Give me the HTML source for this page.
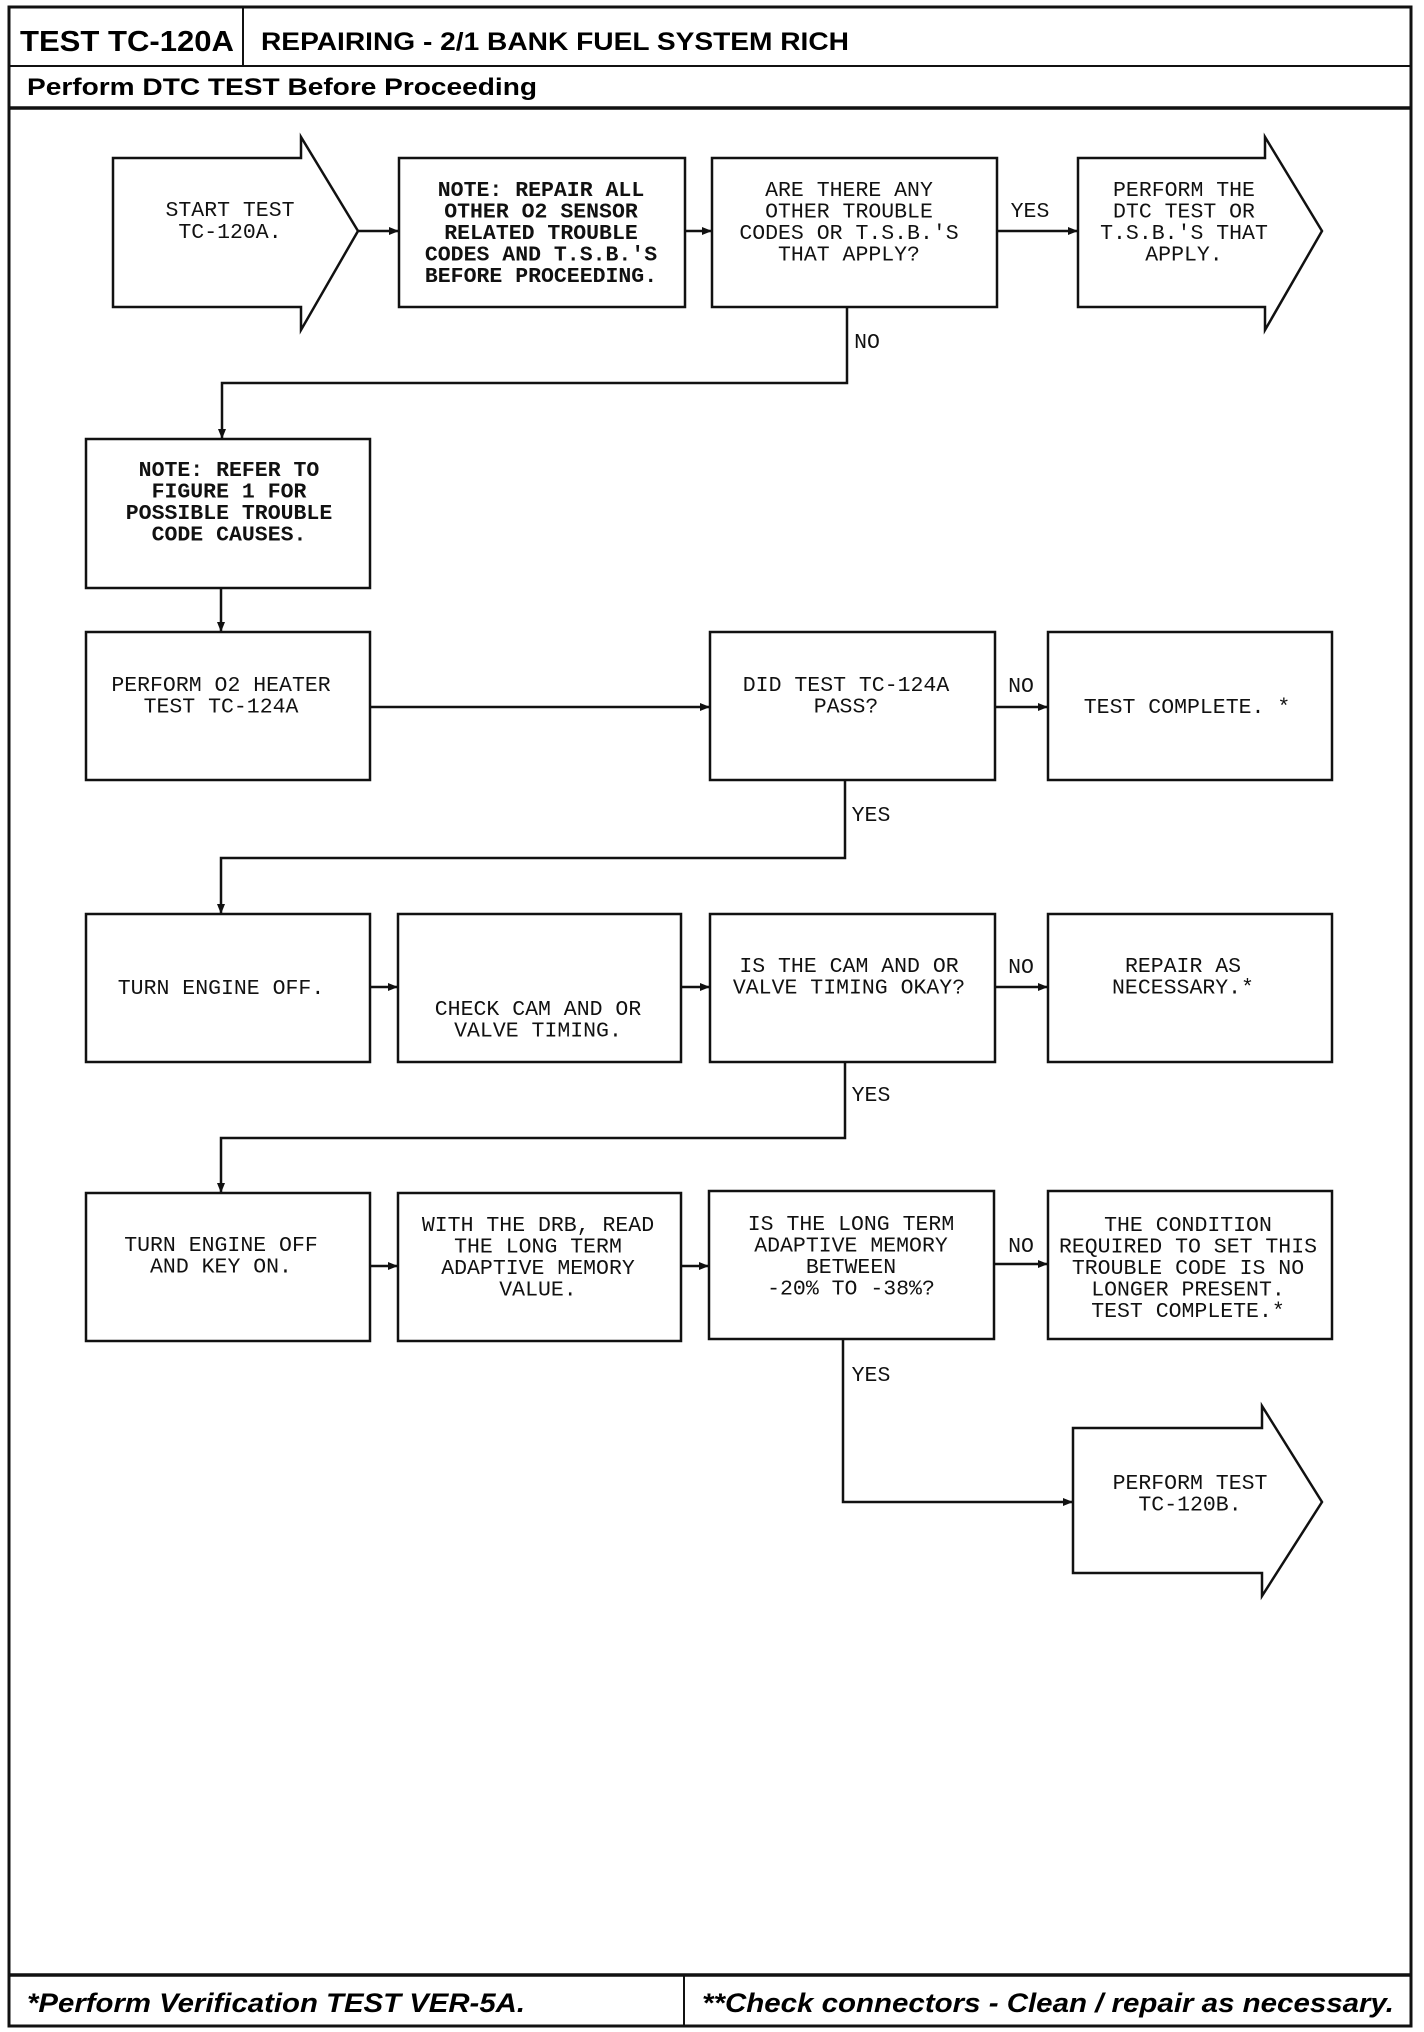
<!DOCTYPE html>
<html><head><meta charset="utf-8"><style>
html,body{margin:0;padding:0;background:#fff;}
svg{display:block;}
.m{font-family:"Liberation Mono",monospace;font-size:21.5px;fill:#111;text-anchor:middle;}
.h{font-family:"Liberation Sans",sans-serif;font-weight:bold;fill:#000;}
.b{fill:#fff;stroke:#111;stroke-width:2.5;}
.l{fill:none;stroke:#111;stroke-width:2.5;}
</style></head><body>
<svg width="1424" height="2032" viewBox="0 0 1424 2032" xmlns="http://www.w3.org/2000/svg">
<defs><marker id="a" markerWidth="10" markerHeight="10" refX="9" refY="5" orient="auto" markerUnits="userSpaceOnUse"><path d="M0,1 L10,5 L0,9 z" fill="#111"/></marker></defs>
<!-- frame -->
<rect x="9" y="7" width="1402" height="2019" fill="none" stroke="#111" stroke-width="3"/>
<line x1="9" y1="66" x2="1411" y2="66" stroke="#111" stroke-width="2"/>
<line x1="243" y1="7" x2="243" y2="66" stroke="#111" stroke-width="2"/>
<line x1="9" y1="108" x2="1411" y2="108" stroke="#111" stroke-width="3.5"/>
<line x1="9" y1="1975" x2="1411" y2="1975" stroke="#111" stroke-width="3.5"/>
<line x1="684" y1="1975" x2="684" y2="2026" stroke="#111" stroke-width="2"/>
<text class="h" x="20" y="51" font-size="29" textLength="214" lengthAdjust="spacingAndGlyphs">TEST TC-120A</text>
<text class="h" x="261" y="50" font-size="25" textLength="588" lengthAdjust="spacingAndGlyphs">REPAIRING - 2/1 BANK FUEL SYSTEM RICH</text>
<text class="h" x="27" y="95" font-size="24" textLength="510" lengthAdjust="spacingAndGlyphs">Perform DTC TEST Before Proceeding</text>
<text class="h" x="27" y="2012" font-size="27" font-style="italic" textLength="498" lengthAdjust="spacingAndGlyphs">*Perform Verification TEST VER-5A.</text>
<text class="h" x="702" y="2012" font-size="27" font-style="italic" textLength="692" lengthAdjust="spacingAndGlyphs">**Check connectors - Clean / repair as necessary.</text>

<!-- row 1 -->
<path class="b" d="M113,158 H301 V137 L358,231 L301,330 V307 H113 Z"/>
<rect class="b" x="399" y="158" width="286" height="149"/>
<rect class="b" x="712" y="158" width="285" height="149"/>
<path class="b" d="M1078,158 H1265 V137 L1322,231 L1265,330 V307 H1078 Z"/>
<line class="l" x1="358" y1="231" x2="398" y2="231" marker-end="url(#a)"/>
<line class="l" x1="685" y1="231" x2="711" y2="231" marker-end="url(#a)"/>
<line class="l" x1="997" y1="231" x2="1077" y2="231" marker-end="url(#a)"/>
<text class="m" x="1030" y="217">YES</text>
<polyline class="l" points="847,307 847,383 222,383 222,438" marker-end="url(#a)"/>
<text class="m" x="867" y="348">NO</text>
<text class="m" x="230"><tspan x="230" y="216">START TEST</tspan><tspan x="230" y="238">TC-120A.</tspan></text>
<text class="m" x="541" font-weight="bold"><tspan x="541" y="196">NOTE: REPAIR ALL</tspan><tspan x="541" y="217.5">OTHER O2 SENSOR</tspan><tspan x="541" y="239">RELATED TROUBLE</tspan><tspan x="541" y="260.5">CODES AND T.S.B.'S</tspan><tspan x="541" y="282">BEFORE PROCEEDING.</tspan></text>
<text class="m"><tspan x="849" y="196">ARE THERE ANY</tspan><tspan x="849" y="217.5">OTHER TROUBLE</tspan><tspan x="849" y="239">CODES OR T.S.B.'S</tspan><tspan x="849" y="260.5">THAT APPLY?</tspan></text>
<text class="m"><tspan x="1184" y="196">PERFORM THE</tspan><tspan x="1184" y="217.5">DTC TEST OR</tspan><tspan x="1184" y="239">T.S.B.'S THAT</tspan><tspan x="1184" y="260.5">APPLY.</tspan></text>

<!-- row 2 -->
<rect class="b" x="86" y="439" width="284" height="149"/>
<text class="m" font-weight="bold"><tspan x="229" y="476">NOTE: REFER TO</tspan><tspan x="229" y="497.5">FIGURE 1 FOR</tspan><tspan x="229" y="519">POSSIBLE TROUBLE</tspan><tspan x="229" y="540.5">CODE CAUSES.</tspan></text>
<line class="l" x1="221" y1="588" x2="221" y2="631" marker-end="url(#a)"/>

<!-- row 3 -->
<rect class="b" x="86" y="632" width="284" height="148"/>
<rect class="b" x="710" y="632" width="285" height="148"/>
<rect class="b" x="1048" y="632" width="284" height="148"/>
<line class="l" x1="370" y1="707" x2="709" y2="707" marker-end="url(#a)"/>
<line class="l" x1="995" y1="707" x2="1047" y2="707" marker-end="url(#a)"/>
<text class="m" x="1021" y="692">NO</text>
<text class="m"><tspan x="221" y="691">PERFORM O2 HEATER</tspan><tspan x="221" y="712.5">TEST TC-124A</tspan></text>
<text class="m"><tspan x="846" y="691">DID TEST TC-124A</tspan><tspan x="846" y="712.5">PASS?</tspan></text>
<text class="m" x="1187" y="713">TEST COMPLETE. *</text>
<polyline class="l" points="845,780 845,858 221,858 221,913" marker-end="url(#a)"/>
<text class="m" x="871" y="821">YES</text>

<!-- row 4 -->
<rect class="b" x="86" y="914" width="284" height="148"/>
<rect class="b" x="398" y="914" width="283" height="148"/>
<rect class="b" x="710" y="914" width="285" height="148"/>
<rect class="b" x="1048" y="914" width="284" height="148"/>
<line class="l" x1="370" y1="987" x2="397" y2="987" marker-end="url(#a)"/>
<line class="l" x1="681" y1="987" x2="709" y2="987" marker-end="url(#a)"/>
<line class="l" x1="995" y1="987" x2="1047" y2="987" marker-end="url(#a)"/>
<text class="m" x="1021" y="973">NO</text>
<text class="m" x="221" y="994">TURN ENGINE OFF.</text>
<text class="m"><tspan x="538" y="1015">CHECK CAM AND OR</tspan><tspan x="538" y="1036.5">VALVE TIMING.</tspan></text>
<text class="m"><tspan x="849" y="972">IS THE CAM AND OR</tspan><tspan x="849" y="993.5">VALVE TIMING OKAY?</tspan></text>
<text class="m"><tspan x="1183" y="972">REPAIR AS</tspan><tspan x="1183" y="993.5">NECESSARY.*</tspan></text>
<polyline class="l" points="845,1062 845,1138 221,1138 221,1192" marker-end="url(#a)"/>
<text class="m" x="871" y="1101">YES</text>

<!-- row 5 -->
<rect class="b" x="86" y="1193" width="284" height="148"/>
<rect class="b" x="398" y="1193" width="283" height="148"/>
<rect class="b" x="709" y="1191" width="285" height="148"/>
<rect class="b" x="1048" y="1191" width="284" height="148"/>
<line class="l" x1="370" y1="1266" x2="397" y2="1266" marker-end="url(#a)"/>
<line class="l" x1="681" y1="1266" x2="708" y2="1266" marker-end="url(#a)"/>
<line class="l" x1="994" y1="1264" x2="1047" y2="1264" marker-end="url(#a)"/>
<text class="m" x="1021" y="1252">NO</text>
<text class="m"><tspan x="221" y="1251">TURN ENGINE OFF</tspan><tspan x="221" y="1272.5">AND KEY ON.</tspan></text>
<text class="m"><tspan x="538" y="1231">WITH THE DRB, READ</tspan><tspan x="538" y="1252.5">THE LONG TERM</tspan><tspan x="538" y="1274">ADAPTIVE MEMORY</tspan><tspan x="538" y="1295.5">VALUE.</tspan></text>
<text class="m"><tspan x="851" y="1230">IS THE LONG TERM</tspan><tspan x="851" y="1251.5">ADAPTIVE MEMORY</tspan><tspan x="851" y="1273">BETWEEN</tspan><tspan x="851" y="1294.5">-20% TO -38%?</tspan></text>
<text class="m"><tspan x="1188" y="1231">THE CONDITION</tspan><tspan x="1188" y="1252.5">REQUIRED TO SET THIS</tspan><tspan x="1188" y="1274">TROUBLE CODE IS NO</tspan><tspan x="1188" y="1295.5">LONGER PRESENT.</tspan><tspan x="1188" y="1317">TEST COMPLETE.*</tspan></text>
<polyline class="l" points="843,1339 843,1502 1072,1502" marker-end="url(#a)"/>
<text class="m" x="871" y="1381">YES</text>
<path class="b" d="M1073,1428 H1262 V1406 L1322,1502 L1262,1596 V1573 H1073 Z"/>
<text class="m"><tspan x="1190" y="1489">PERFORM TEST</tspan><tspan x="1190" y="1510.5">TC-120B.</tspan></text>
</svg>
</body></html>
